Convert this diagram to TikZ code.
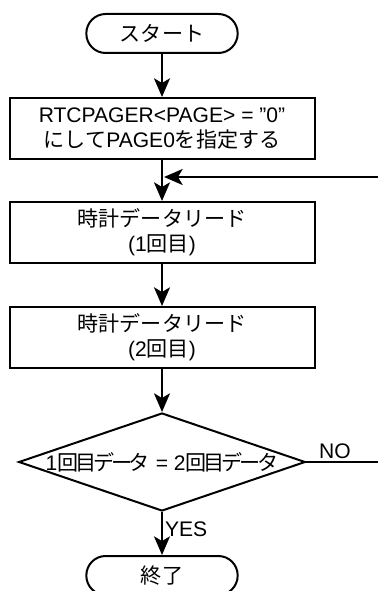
\documentclass[tikz,border=0pt]{standalone}
\usepackage{fontspec}
\setmainfont{Liberation Sans}
\newfontfamily\jp{Noto Sans CJK JP}
\newfontfamily\jpnarrow[LetterSpace=-15]{Noto Sans CJK JP}
\usetikzlibrary{positioning,arrows.meta,shapes.geometric}

\begin{document}
\begin{tikzpicture}[
  x=0.75pt, y=-0.75pt, line width=1.5pt,
  every node/.style={font=\fontsize{15.8}{18.75}\selectfont},
  terminal/.style={draw, rounded corners=14.5pt, minimum width=113.5pt,
                   minimum height=29.25pt, inner sep=0pt},
  process/.style={draw, minimum width=228.75pt, minimum height=45.75pt,
                  align=center, inner sep=0pt},
  decision/.style={draw, diamond, aspect=2.93, minimum width=215pt,
                   minimum height=73.5pt, inner xsep=-4pt, inner ysep=0pt},
  flow/.style={->},
  >={Stealth[length=14pt, width=12pt, inset=3.5pt]}
]
\useasboundingbox (0,0) rectangle (378,591);
% ---- main column ----
\node[terminal] (start) at (162,33.5) {\jp スタート};
\node[process]  (page)  at (162,128.5)
  {RTCPAGER<PAGE> = {\char34}0{\char34}\\{\jp にして}PAGE0{\jp を指定する}};
\node[process]  (read1) at (162,232.5) {{\jp 時計データリード}\\({1}{\jp 回目})};
\node[process]  (read2) at (162,337.5) {{\jp 時計データリード}\\({2}{\jp 回目})};
\node[decision] (cmp)   at (162,462)
  {1{\jpnarrow 回目データ} = 2{\jpnarrow 回目データ}};
\node[terminal] (fin)   at (162,575.5) {\jp 終了};
\draw[flow] (start) -- (page);
\draw[flow] (page) -- (read1);
\draw[flow] (read1) -- (read2);
\draw[flow] (read2) -- (cmp);
\draw[flow] (cmp) -- node[right, pos=0.4, inner sep=1.5pt] {YES} (fin);
% ---- retry loop (runs off the right edge) ----
\coordinate (noout) at (378,462);
\coordinate (back)  at (378,177);
\draw (cmp.east) -- node[above, pos=0.4, inner sep=2pt] {NO} (noout);
\draw[flow, shorten >=1.5pt] (back) -- (back -| page.south);
\end{tikzpicture}
\end{document}
